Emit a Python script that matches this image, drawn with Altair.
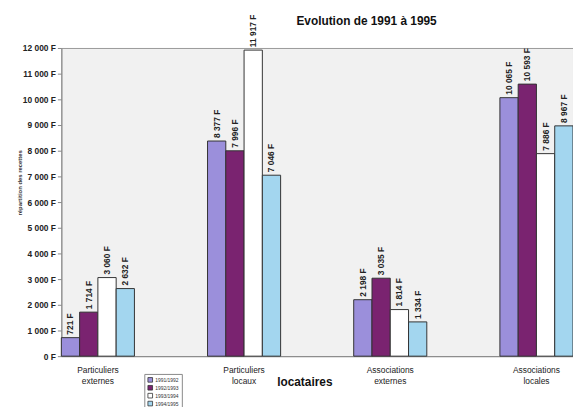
import altair as alt
import pandas as pd

categories = ["Particuliers externes", "Particuliers locaux", "Associations externes", "Associations locales"]
periods = ["1991/1992", "1992/1993", "1993/1994", "1994/1995"]
v_1991 = [721, 8377, 2198, 10065]
v_1992 = [1714, 7996, 3035, 10593]
v_1993 = [3060, 11917, 1814, 7886]
v_1994 = [2632, 7046, 1334, 8967]
colors = ["#9b8fdb", "#7a2370", "#ffffff", "#a3d6ef"]

series = [v_1991, v_1992, v_1993, v_1994]
rows = []
for p, vals in zip(periods, series):
    for c, v in zip(categories, vals):
        rows.append({"cat": c, "period": p, "value": v})
df = pd.DataFrame(rows)

FONT = "Liberation Sans"

x = alt.X("cat:N", sort=categories,
          scale=alt.Scale(paddingInner=0.5, paddingOuter=0, align=0),
          axis=alt.Axis(title="locataires", labelAngle=0, ticks=False,
                        labelExpr="split(datum.label, ' ')",
                        labelFont=FONT, labelFontSize=8.5, labelColor="#222",
                        labelLineHeight=11, labelPadding=10,
                        domainColor="#888",
                        titleFont=FONT, titleFontSize=12, titleFontWeight="bold",
                        titleColor="#111", titleX=246, titleY=26,
                        titleBaseline="middle", titleAlign="center"))
xo = alt.XOffset("period:N", sort=periods, scale=alt.Scale(paddingInner=0, paddingOuter=0))
y = alt.Y("value:Q", scale=alt.Scale(domain=[0, 12000], nice=False),
          axis=alt.Axis(title="répartition des recettes", values=list(range(0, 12001, 1000)),
                        labelExpr="replace(format(datum.value, ','), ',', ' ') + ' F'",
                        labelOverlap=False, tickCount=13,
                        grid=False, tickSize=4, tickColor="#888", domainColor="#888",
                        labelFont=FONT, labelFontSize=8.5, labelFontWeight="bold",
                        labelColor="#222", labelPadding=2,
                        titleFont=FONT, titleFontSize=6, titleFontWeight="bold",
                        titleColor="#333", titleAngle=270, titleX=-42, titleY=136,
                        titleAlign="center", titleBaseline="middle"))

base = alt.Chart(df)

bars = base.mark_bar(stroke="#333", strokeWidth=1).encode(
    x=x, xOffset=xo, y=y,
    color=alt.Color("period:N", sort=periods,
                    scale=alt.Scale(domain=periods, range=colors),
                    legend=alt.Legend(title=None, orient="none", legendX=84, legendY=330,
                                      symbolType="square", symbolSize=22,
                                      symbolStrokeColor="#333", symbolStrokeWidth=0.8,
                                      labelFont=FONT, labelFontSize=5, labelColor="#333",
                                      rowPadding=0, padding=3, strokeColor="#888",
                                      fillColor="white", labelOffset=2)),
)

labels = base.transform_calculate(
    lab="replace(format(datum.value, ','), ',', ' ') + ' F'"
).mark_text(angle=270, align="left", baseline="middle", dx=3,
            font=FONT, fontSize=8.5, fontWeight="bold", color="#222").encode(
    x=x, xOffset=xo, y=y, text="lab:N",
)

chart = alt.layer(bars, labels).properties(
    width=518, height=312,
    background="white",
    autosize=alt.AutoSizeParams(type="none"),
    padding={"left": 54, "top": 38, "right": 0, "bottom": 49},
    title=alt.TitleParams("Evolution de 1991 à 1995", anchor="start", frame="group", dx=238,
                          offset=0, dy=14, font=FONT, fontSize=12, fontWeight="bold",
                          color="#111"),
).configure_view(fill="#f1f1f1", stroke="#999", strokeWidth=1)

chart.save("out.html", embed_options={"renderer": "svg", "actions": False})
